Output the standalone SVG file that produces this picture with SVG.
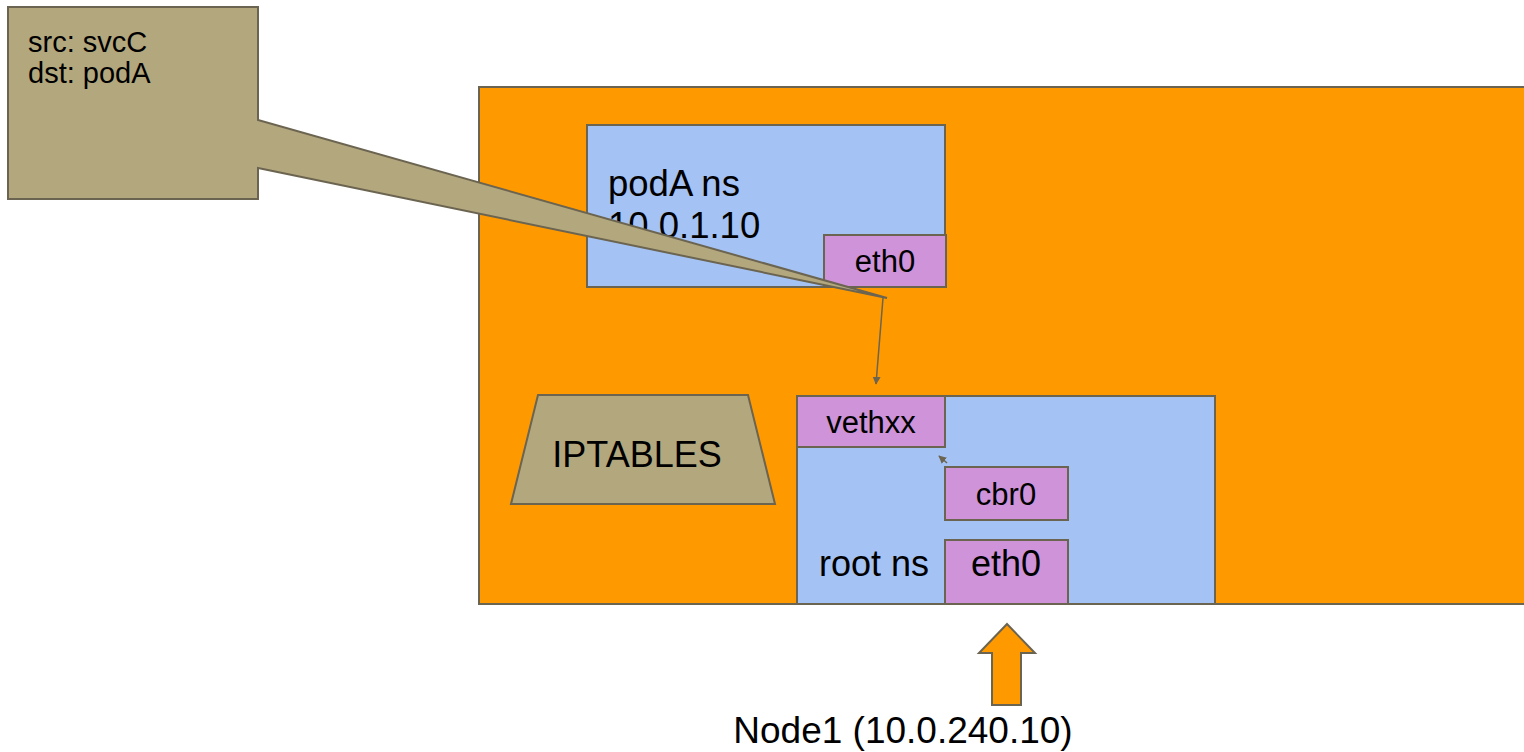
<svg xmlns="http://www.w3.org/2000/svg" width="1524" height="752" viewBox="0 0 1524 752">
<style>
text{font-family:"Liberation Sans",Arial,sans-serif;fill:#000}
.s{stroke:#6b6450;stroke-width:2}
.org{fill:#ff9900}
.blue{fill:#a4c2f4}
.pur{fill:#ce93d8}
.kh{fill:#b3a77d}
.mid{text-anchor:middle}
</style>
<defs>
<marker id="ah" viewBox="0 0 10 10" refX="9" refY="5" markerWidth="8" markerHeight="8" orient="auto" markerUnits="userSpaceOnUse">
<path d="M0,0 L10,5 L0,10 z" fill="#6b6450"/>
</marker>
</defs>
<rect width="1524" height="752" fill="#fff"/>
<g id="node1">
<rect class="org s" x="479" y="87" width="1060" height="517"/>
</g>
<g id="podA-ns">
<rect class="blue s" x="587" y="125" width="358" height="162"/>
<text x="608" y="196" font-size="36.5">podA ns</text>
<text x="608" y="238" font-size="36.5">10.0.1.10</text>
</g>
<g id="podA-eth0">
<rect class="pur s" x="824" y="235" width="122" height="52"/>
<text class="mid" x="885" y="272" font-size="31">eth0</text>
</g>
<g id="iptables">
<polygon class="kh s" points="538,395 748,395 775,504 511,504"/>
<text class="mid" x="637" y="467" font-size="36">IPTABLES</text>
</g>
<g id="root-ns">
<rect class="blue s" x="797" y="396" width="418" height="208"/>
<text x="819" y="576" font-size="36">root ns</text>
</g>
<g id="vethxx">
<rect class="pur s" x="797" y="396" width="148" height="51"/>
<text class="mid" x="871" y="433" font-size="31">vethxx</text>
</g>
<g id="cbr0">
<rect class="pur s" x="945" y="467" width="123" height="53"/>
<text class="mid" x="1006" y="505" font-size="31">cbr0</text>
</g>
<g id="root-eth0">
<rect class="pur s" x="945" y="540" width="123" height="64"/>
<text class="mid" x="1006" y="576" font-size="36">eth0</text>
</g>
<g id="callout">
<polygon class="kh s" points="8,7 258,7 258,120 887,298 258,168 258,199 8,199"/>
<text x="28" y="52" font-size="29">src: svcC</text>
<text x="28" y="83" font-size="29">dst: podA</text>
</g>
<g id="connectors">
<line x1="883" y1="298" x2="876" y2="384" stroke="#6b6450" stroke-width="1.5" marker-end="url(#ah)"/>
<line x1="947" y1="463" x2="939" y2="456" stroke="#6b6450" stroke-width="1.5" marker-end="url(#ah)"/>
</g>
<g id="ingress-arrow">
<polygon class="org s" points="1007,624 1035,653 1021,653 1021,705 992,705 992,653 979,653"/>
<text class="mid" x="903" y="743" font-size="37">Node1 (10.0.240.10)</text>
</g>
</svg>
